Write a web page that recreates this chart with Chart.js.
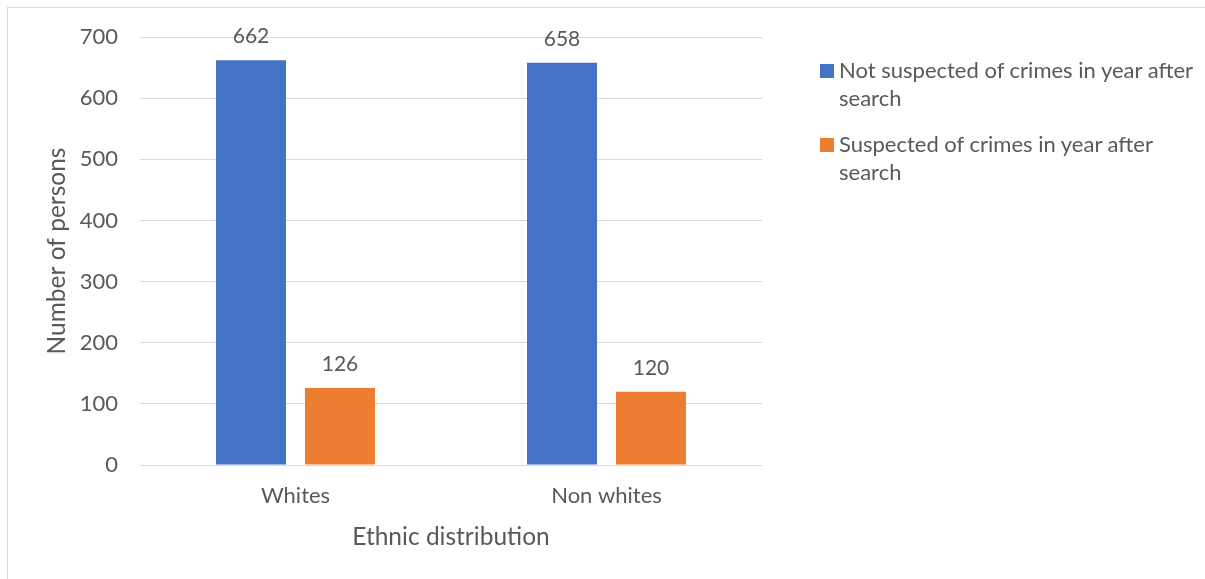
<!DOCTYPE html>
<html>
<head>
<meta charset="utf-8">
<script src="https://cdn.jsdelivr.net/npm/chart.js@4"></script>
<style>
  html, body { margin: 0; padding: 0; background: #fff; overflow: hidden; }
  #wrap { position: relative; width: 1205px; height: 579px; }
  #frame { position: absolute; left: 7px; top: 7px; width: 1300px; height: 700px;
           border-left: 1px solid #d9d9d9; border-top: 1px solid #d9d9d9; }
  #chart { position: absolute; left: 0; top: 0; }
  #legend { position: absolute; left: 820px; top: 56px; width: 380px;
            font-family: Lato, "Open Sans", sans-serif; font-size: 22px; color: #595959; }
  .item { position: relative; padding-left: 19px; line-height: 28px; margin-bottom: 18px; }
  .swatch { position: absolute; left: 0; top: 8px; width: 14px; height: 14px; }
</style>
</head>
<body>
<div id="wrap">
  <div id="frame"></div>
  <canvas id="chart" width="1205" height="579"></canvas>
  <div id="legend"></div>
</div>
<script>
  const categories = ["Whites", "Non whites"];
  const notSuspected = [662, 658];
  const suspected = [126, 120];
  const seriesLabels = [
    "Not suspected of crimes in year after search",
    "Suspected of crimes in year after search",
  ];
  const seriesColors = ["#4472c4", "#ed7d31"];
  const yTicks = [0, 100, 200, 300, 400, 500, 600, 700];

  const textColor = "#595959";
  const fontFamily = "Lato, 'Open Sans', sans-serif";

  // value above each bar
  const valueLabels = {
    id: "valueLabels",
    afterDatasetsDraw: function (chart) {
      const ctx = chart.ctx;
      ctx.save();
      ctx.font = "21px " + fontFamily;
      ctx.fillStyle = textColor;
      ctx.textAlign = "center";
      ctx.textBaseline = "alphabetic";
      chart.data.datasets.forEach(function (ds, i) {
        chart.getDatasetMeta(i).data.forEach(function (bar, j) {
          ctx.fillText(String(ds.data[j]), bar.x, bar.y - 17);
        });
      });
      ctx.restore();
    },
  };

  const chart = new Chart(document.getElementById("chart"), {
    type: "bar",
    data: {
      labels: categories,
      datasets: [
        { label: seriesLabels[0], data: notSuspected, backgroundColor: seriesColors[0] },
        { label: seriesLabels[1], data: suspected, backgroundColor: seriesColors[1] },
      ],
    },
    options: {
      responsive: false,
      animation: false,
      layout: { padding: { left: 10, right: 443, top: 37, bottom: 10 } },
      categoryPercentage: 0.572,
      barPercentage: 0.787,
      plugins: { legend: { display: false }, tooltip: { enabled: false } },
      scales: {
        x: {
          grid: { display: false, drawTicks: false },
          border: { display: false },
          ticks: { color: textColor, font: { family: fontFamily, size: 22 }, padding: 18 },
          title: {
            display: true, text: "Ethnic distribution", color: textColor,
            font: { family: fontFamily, size: 24.5 }, padding: { top: 0, bottom: 17 },
          },
          afterFit: function (scale) { scale.height = 579 - 465 - 10; },
        },
        y: {
          min: 0,
          max: yTicks[yTicks.length - 1],
          afterBuildTicks: function (scale) {
            scale.ticks = yTicks.map(function (v) { return { value: v }; });
          },
          grid: { color: "#d9d9d9", drawTicks: false },
          border: { display: false },
          ticks: { color: textColor, font: { family: fontFamily, size: 22 }, padding: 22 },
          title: {
            display: true, text: "Number of persons", color: textColor,
            font: { family: fontFamily, size: 24.5 }, padding: { top: 32, bottom: 0 },
          },
          afterFit: function (scale) { scale.width = 140 - 10; },
        },
      },
    },
    plugins: [valueLabels],
  });

  const legend = document.getElementById("legend");
  chart.data.datasets.forEach(function (ds) {
    const item = document.createElement("div");
    item.className = "item";
    const sw = document.createElement("span");
    sw.className = "swatch";
    sw.style.background = ds.backgroundColor;
    item.appendChild(sw);
    item.appendChild(document.createTextNode(ds.label));
    legend.appendChild(item);
  });
</script>
</body>
</html>
